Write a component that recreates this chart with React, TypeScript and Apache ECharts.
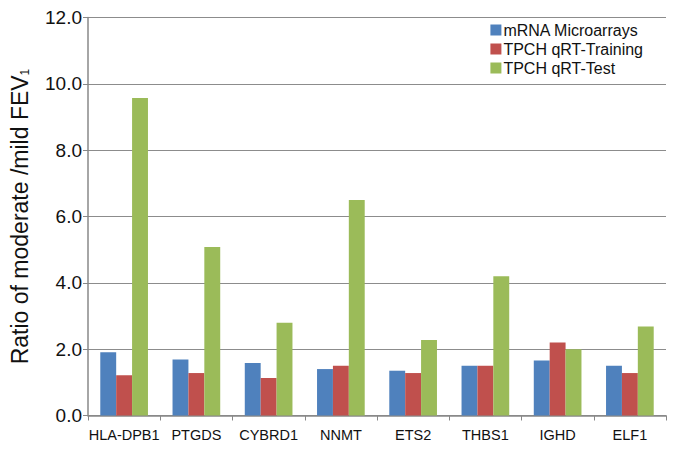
import React, { useEffect, useRef } from "react";
import * as echarts from "echarts";

const categories = ["HLA-DPB1", "PTGDS", "CYBRD1", "NNMT", "ETS2", "THBS1", "IGHD", "ELF1"];
const microarrays = [1.91, 1.69, 1.58, 1.4, 1.35, 1.5, 1.66, 1.5];
const qrtTraining = [1.21, 1.28, 1.13, 1.5, 1.28, 1.5, 2.2, 1.28];
const qrtTest = [9.57, 5.08, 2.8, 6.5, 2.28, 4.2, 2.0, 2.68];
const yTicks = [0, 2, 4, 6, 8, 10, 12];

const FONT = "'Liberation Sans', Arial, sans-serif";

export default function App() {
  const ref = useRef<HTMLDivElement>(null);
  useEffect(() => {
    const chart = echarts.init(ref.current!, null, { renderer: "svg" });
    chart.setOption({
      animation: false,
      backgroundColor: "#fff",
      grid: { left: 85, right: 8, top: 17.5, bottom: 35.5, containLabel: false },
      legend: {
        data: ["mRNA Microarrays", "TPCH qRT-Training", "TPCH qRT-Test"],
        orient: "vertical",
        right: 26,
        top: 17,
        itemWidth: 11,
        itemHeight: 11,
        itemGap: 3,
        icon: "rect",
        textStyle: { fontFamily: FONT, fontSize: 16, color: "#111", padding: [0, 0, 0, -3] },
      },
      xAxis: {
        type: "category",
        data: categories,
        axisLine: { lineStyle: { color: "#888", width: 1.5 } },
        axisTick: { show: true, length: 5, lineStyle: { color: "#888" } },
        axisLabel: { fontFamily: FONT, fontSize: 14.5, color: "#111", margin: 12, interval: 0 },
      },
      yAxis: {
        type: "value",
        min: yTicks[0],
        max: yTicks[yTicks.length - 1],
        interval: 2,
        name: "{a|Ratio of moderate /mild FEV}{b|1}",
        nameLocation: "middle",
        nameGap: 57,
        nameRotate: 90,
        nameTextStyle: {
          rich: {
            a: { fontFamily: FONT, fontSize: 23, color: "#111" },
            b: { fontFamily: FONT, fontSize: 12, color: "#111", verticalAlign: "bottom", padding: [11, 0, 0, 0] },
          },
        },
        axisLine: { show: true, lineStyle: { color: "#888", width: 1.5 } },
        axisTick: { show: true, length: 5, lineStyle: { color: "#888" } },
        splitLine: { lineStyle: { color: "#8c8c8c", width: 1.2 } },
        axisLabel: {
          fontFamily: FONT,
          fontSize: 19,
          color: "#111",
          margin: 6,
          formatter: (v: number) => v.toFixed(1),
        },
      },
      series: [
        { name: "mRNA Microarrays", type: "bar", data: microarrays, itemStyle: { color: "#4F81BD" }, barGap: "0%", barCategoryGap: "34%" },
        { name: "TPCH qRT-Training", type: "bar", data: qrtTraining, itemStyle: { color: "#C0504D" }, barGap: "0%", barCategoryGap: "34%" },
        { name: "TPCH qRT-Test", type: "bar", data: qrtTest, itemStyle: { color: "#9BBB59" }, barGap: "0%", barCategoryGap: "34%" },
      ],
    });
    return () => chart.dispose();
  }, []);
  return <div ref={ref} style={{ width: 674, height: 451, position: "absolute", left: 0, top: 0 }} />;
}
